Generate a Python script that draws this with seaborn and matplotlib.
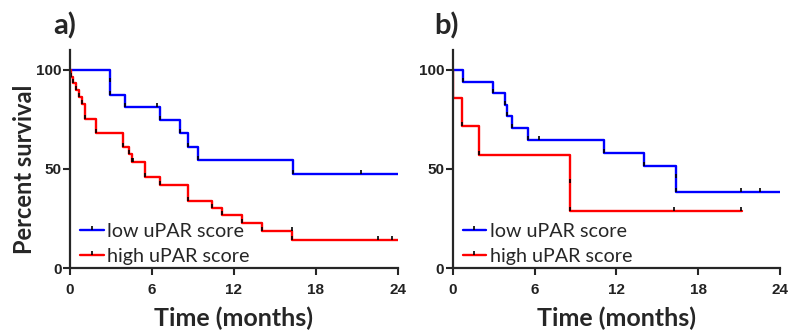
import matplotlib
matplotlib.use("Agg")
import matplotlib.pyplot as plt
from matplotlib.path import Path
from matplotlib.lines import Line2D
import seaborn as sns

# panel a) step times (months) and survival (%)
a_low_t = [0, 2.9, 4.0, 6.6, 8.05, 8.6, 9.4, 16.3, 24]
a_low_s = [100, 87.5, 81.2, 74.8, 68.0, 61.3, 54.3, 47.6, 47.6]
a_high_t = [0, 0.05, 0.25, 0.45, 0.65, 0.85, 1.1, 1.9, 3.85, 4.35, 4.5, 5.5, 6.6, 8.6, 10.4, 11.15, 12.55, 14.05, 16.25, 24]
a_high_s = [100, 96.6, 93.1, 89.7, 86.2, 82.8, 75.2, 68.0, 61.2, 57.3, 53.6, 45.8, 41.9, 34.0, 30.5, 26.6, 22.8, 18.9, 14.3, 14.3]
# censored points
a_low_cens_t = [2.9, 6.34, 21.3]
a_low_cens_s = [94.0, 81.2, 47.6]
a_high_cens_t = [4.6, 16.25, 22.56, 23.58]
a_high_cens_s = [53.6, 18.9, 14.3, 14.3]

# panel b)
b_low_t = [0, 0.72, 2.98, 3.83, 4.0, 4.32, 5.54, 11.08, 14.0, 16.36, 24]
b_low_s = [100, 94.1, 88.2, 82.4, 76.5, 70.6, 64.7, 58.0, 51.5, 38.6, 38.6]
b_high_t = [0, 0.02, 0.65, 1.9, 8.58, 21.2]
b_high_s = [100, 85.7, 71.4, 57.1, 28.6, 28.6]
b_low_cens_t = [6.32, 16.36, 21.17, 22.56]
b_low_cens_s = [64.7, 45.5, 38.6, 38.6]
b_high_cens_t = [8.58, 16.2, 21.17]
b_high_cens_s = [43.0, 28.6, 28.6]

labels = ["low uPAR score", "high uPAR score"]
xticks = [0, 6, 12, 18, 24]
yticks = [0, 50, 100]

sns.set_style("ticks")
plt.rcParams['font.family'] = ['Lato', 'DejaVu Sans']

# small upward tick used for censor marks
TICK = Path([[0, 0], [0, 1]], [Path.MOVETO, Path.LINETO])

fig = plt.figure(figsize=(7.9, 3.31), dpi=100)
ax_a = fig.add_axes([70/790, 63/331, 328/790, 218/331])
ax_b = fig.add_axes([452.7/790, 63/331, 327.3/790, 218/331])


def draw_panel(ax, low_t, low_s, high_t, high_s, lc_t, lc_s, hc_t, hc_s, tag, tag_x):
    sns.lineplot(x=low_t, y=low_s, color='#0000ff', lw=1.7, drawstyle='steps-post',
                 errorbar=None, ax=ax)
    sns.lineplot(x=high_t, y=high_s, color='#ff0000', lw=1.7, drawstyle='steps-post',
                 errorbar=None, ax=ax)
    # black marks at each drop and at censored times
    for t, s in [(low_t[1:-1], low_s[1:-1]), (high_t[1:-1], high_s[1:-1]),
                 (lc_t, lc_s), (hc_t, hc_s)]:
        ax.plot(t, s, ls='none', marker=TICK, color='black', ms=6, mew=1.2)
    ax.set_xlim(0, 24)
    ax.set_ylim(0, 110)
    ax.set_xticks(xticks)
    ax.set_yticks(yticks)
    for lab in ax.get_xticklabels() + ax.get_yticklabels():
        lab.set_fontfamily('Liberation Sans')
        lab.set_fontsize(11)
        lab.set_fontweight('bold')
        lab.set_color('#222222')
    ax.tick_params(width=1.5, length=5)
    ax.tick_params(axis='x', pad=6)
    ax.tick_params(axis='y', pad=1)
    for sp in ['left', 'bottom']:
        ax.spines[sp].set_linewidth(1.6)
    sns.despine(ax=ax)
    ax.set_xlabel("Time (months)", fontsize=18, fontweight='bold', labelpad=7)
    handles = [Line2D([], [], color='#0000ff', lw=1.7, marker=TICK, mec='black', ms=6, mew=1.2),
               Line2D([], [], color='#ff0000', lw=1.7, marker=TICK, mec='black', ms=6, mew=1.2)]
    ax.legend(handles, labels, loc='lower left', bbox_to_anchor=(-0.012, -0.05),
              frameon=False, fontsize=14.2, handlelength=1.2, handletextpad=0.2,
              labelspacing=0.42, borderaxespad=0.3)
    ax.text(tag_x, 1.11, tag, transform=ax.transAxes, fontsize=21,
            fontweight='bold', ha='center', va='center')


draw_panel(ax_a, a_low_t, a_low_s, a_high_t, a_high_s,
           a_low_cens_t, a_low_cens_s, a_high_cens_t, a_high_cens_s, "a)", -0.015)
draw_panel(ax_b, b_low_t, b_low_s, b_high_t, b_high_s,
           b_low_cens_t, b_low_cens_s, b_high_cens_t, b_high_cens_s, "b)", -0.02)
ax_a.set_ylabel("Percent survival", fontsize=17, fontweight='bold')
ax_a.yaxis.set_label_coords(-0.105, 50/110)
ax_b.set_ylabel("")

fig.savefig("out.png", dpi=100)
